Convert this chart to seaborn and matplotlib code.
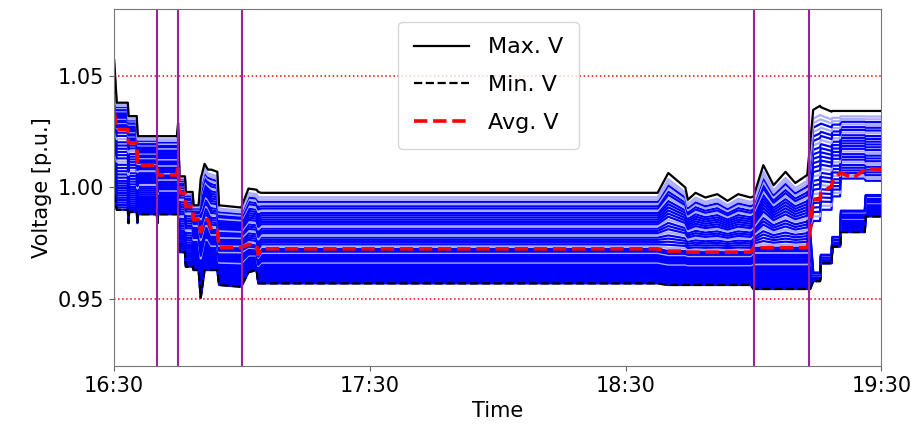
import numpy as np
import pandas as pd
import matplotlib
matplotlib.use('Agg')
import matplotlib.pyplot as plt
import matplotlib.dates as mdates
import seaborn as sns

# minutes after 16:30 where the voltage profile was read
minutes = [0.0, 0.6, 3.2, 3.35, 3.5, 5.3, 5.45, 5.6, 10.0, 10.15, 10.3, 14.7,
           15.0, 15.3, 16.6, 16.8, 18.4, 18.6, 19.8, 20.3, 21.2, 22.0, 22.8, 24.2, 24.6,
           29.8, 31.5, 33.4, 33.8, 34.5,
           127.5, 130.0, 134.0, 134.6, 136.4, 138.7, 141.5, 143.9, 146.4, 149.3,
           150.0, 152.3, 154.7, 157.5, 159.8, 162.6,
           163.3, 164.0, 165.6, 165.8, 168.3, 168.5, 170.3, 170.5, 173.4, 176.1, 176.3, 180.0]
v_max = [1.057, 1.038, 1.038, 1.032, 1.032, 1.032, 1.025, 1.023, 1.023, 1.023, 1.023, 1.023,
         1.029, 1.005, 1.005, 0.998, 0.998, 0.992, 0.992, 1.004, 1.0106, 1.008, 1.008, 1.007, 0.992,
         0.991, 0.9995, 0.999, 0.998, 0.9976,
         0.9976, 1.0065, 1.000, 0.9945, 0.9976, 0.9955, 0.997, 0.994, 0.997, 0.9955,
         0.996, 1.010, 1.001, 1.007, 1.002, 1.0056,
         1.020, 1.0348, 1.0366, 1.036, 1.034, 1.0343, 1.0343, 1.0343, 1.0343, 1.0343, 1.0343, 1.0343]
v_min = [0.997, 0.990, 0.990, 0.984, 0.989, 0.989, 0.984, 0.988, 0.988, 0.984, 0.988, 0.988,
         0.988, 0.971, 0.971, 0.9645, 0.9645, 0.963, 0.963, 0.9505, 0.963, 0.963, 0.963, 0.963, 0.9563,
         0.9555, 0.962, 0.963, 0.957, 0.957,
         0.957, 0.9563, 0.9563, 0.9563, 0.9563, 0.9563, 0.9563, 0.9563, 0.9563, 0.9563,
         0.9545, 0.9545, 0.9545, 0.9545, 0.9545, 0.9545,
         0.9545, 0.958, 0.958, 0.966, 0.966, 0.9735, 0.9735, 0.980, 0.980, 0.980, 0.987, 0.987]
v_avg = [1.034, 1.026, 1.026, 1.020, 1.020, 1.020, 1.010, 1.010, 1.010, 1.0056, 1.0056, 1.0056,
         1.010, 0.9976, 0.9976, 0.9914, 0.9914, 0.9855, 0.9855, 0.980, 0.9855, 0.9855, 0.981, 0.981, 0.973,
         0.973, 0.9745, 0.974, 0.970, 0.9725,
         0.9725, 0.9715, 0.9715, 0.971, 0.971, 0.971, 0.971, 0.971, 0.971, 0.971,
         0.973, 0.973, 0.973, 0.973, 0.973, 0.973,
         0.981, 0.9945, 0.9945, 0.9976, 1.0005, 1.0025, 1.0065, 1.0065, 1.0043, 1.008, 1.0087, 1.008]

# after the last switching the buses split into two groups
gap_minutes = [164.0, 165.6, 165.8, 168.3, 168.5, 170.3, 170.5, 173.4, 176.1, 176.3, 180.0]
gap_lo = [0.962, 0.962, 0.970, 0.970, 0.978, 0.978, 0.990, 0.990, 0.990, 0.997, 0.997]
gap_hi = [0.985, 0.985, 0.990, 0.990, 0.996, 0.996, 1.004, 1.004, 1.004, 1.003, 1.003]

# relative position of each bus inside the voltage band
bus_fracs = [0.0, 0.015, 0.03, 0.045, 0.06, 0.075, 0.09, 0.105, 0.12, 0.135, 0.15, 0.165,
             0.18, 0.20, 0.22, 0.24, 0.26, 0.28, 0.30, 0.32, 0.34, 0.36, 0.38, 0.40,
             0.42, 0.44, 0.46, 0.48,
             0.50, 0.52, 0.54, 0.56, 0.58, 0.60, 0.62, 0.64, 0.66, 0.68, 0.70, 0.72,
             0.74, 0.76, 0.78, 0.80, 0.82, 0.84, 0.86, 0.88, 0.90, 0.92, 0.94, 0.96]
pale_fracs = [0.30, 0.44, 0.52, 0.62, 0.70, 0.84, 0.90, 0.94, 0.96]

switch_minutes = [10, 15, 30, 150, 163]
limits = [0.95, 1.05]
tick_minutes = [0, 60, 120, 180]

t0 = pd.Timestamp('2020-01-01 16:30')
times = t0 + pd.to_timedelta(minutes, unit='min')

vmax = np.array(v_max)
vmin = np.array(v_min)
split_lo = np.array(v_avg)
split_hi = np.array(v_avg)
for m, lo, hi in zip(gap_minutes, gap_lo, gap_hi):
    i = minutes.index(m)
    split_lo[i] = lo
    split_hi[i] = hi

frames = []
for k, f in enumerate(bus_fracs):
    if f < 0.5:
        v = vmin + 2 * f * (split_lo - vmin)
    else:
        v = split_hi + (2 * f - 1) * (vmax - split_hi)
    frames.append(pd.DataFrame({'time': times, 'v': v, 'bus': k}))
buses = pd.concat(frames, ignore_index=True)
colors = {k: ('#aaaaff' if f in pale_fracs else '#0000ff') for k, f in enumerate(bus_fracs)}

fig, ax = plt.subplots(figsize=(9.21, 4.29), dpi=100)
fig.subplots_adjust(left=0.124, right=0.957, top=0.979, bottom=0.147)

sns.lineplot(data=buses, x='time', y='v', hue='bus', palette=colors, estimator=None,
             legend=False, lw=1.6, ax=ax)
sns.lineplot(x=times, y=v_max, color='black', lw=1.6, label='Max. V', ax=ax)
sns.lineplot(x=times, y=v_min, color='black', lw=1.6, ls='--', label='Min. V', ax=ax)
sns.lineplot(x=times, y=v_avg, color='red', lw=2.6, ls='--', label='Avg. V', ax=ax)

for y in limits:
    ax.axhline(y, color='red', ls=':', lw=1.1)
for m in switch_minutes:
    ax.axvline(t0 + pd.Timedelta(minutes=m), color='#9b1f9f', lw=1.5)

ax.set_xlim(t0, t0 + pd.Timedelta(minutes=180))
ax.set_ylim(0.92, 1.08)
ax.set_xticks([t0 + pd.Timedelta(minutes=m) for m in tick_minutes])
ax.xaxis.set_major_formatter(mdates.DateFormatter('%H:%M'))
ax.set_yticks([0.95, 1.00, 1.05])
ax.set_yticklabels(['0.95', '1.00', '1.05'])
ax.tick_params(labelsize=15, color='#666666')
ax.set_xlabel('Time', fontsize=15)
ax.set_ylabel('Voltage [p.u.]', fontsize=15)
for s in ax.spines.values():
    s.set_color('#777777')

ax.legend(loc='upper left', bbox_to_anchor=(0.37, 0.964), borderaxespad=0, borderpad=0.7,
          fontsize=16, labelspacing=0.8, handlelength=2.5, handletextpad=0.85)

fig.savefig('out.png', dpi=100)
